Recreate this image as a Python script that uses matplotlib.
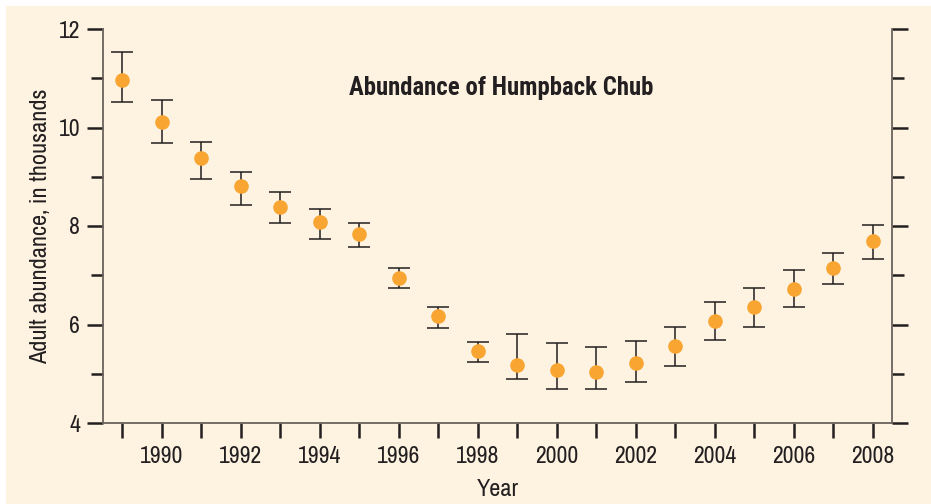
import matplotlib
matplotlib.use("Agg")
import numpy as np
import matplotlib.pyplot as plt
from matplotlib import font_manager
from matplotlib.ticker import MultipleLocator

# --------------------------------------------
# Data
# --------------------------------------------
years = np.arange(1989, 2009)
abundance = [10.96, 10.12, 9.39, 8.81, 8.39, 8.08, 7.83, 6.95, 6.17, 5.46,
             5.18, 5.08, 5.04, 5.21, 5.56, 6.08, 6.35, 6.73, 7.14, 7.69]
upper = [11.54, 10.56, 9.71, 9.09, 8.70, 8.35, 8.07, 7.15, 6.36, 5.64,
         5.81, 5.63, 5.54, 5.66, 5.95, 6.46, 6.74, 7.11, 7.46, 8.03]
lower = [10.51, 9.68, 8.96, 8.43, 8.07, 7.74, 7.57, 6.74, 5.92, 5.24,
         4.89, 4.70, 4.70, 4.83, 5.16, 5.69, 5.95, 6.36, 6.83, 7.34]

BG = "#fef3e1"
INK = "#231f20"
SPINE = "#6b625e"
ORANGE = "#f8a532"
FONT = ["Archivo Narrow", "Liberation Sans Narrow", "DejaVu Sans"]


def pick_bold_condensed():
    # first condensed family that really ships a bold face
    wanted = ["Roboto Condensed", "Liberation Sans Narrow", "IBM Plex Sans Condensed",
              "Fira Sans Condensed", "Open Sans Condensed", "Asap Condensed",
              "Sofia Sans Condensed"]
    have = {(f.name, f.weight) for f in font_manager.fontManager.ttflist}
    for name in wanted:
        if (name, 700) in have:
            return [name, "DejaVu Sans"]
    return FONT


plt.rcParams["font.family"] = FONT

fig = plt.figure(figsize=(9.31, 5.04), dpi=100)
fig.patch.set_facecolor("white")
# cream panel with a thin white border at top/left
fig.patches.append(plt.Rectangle((6 / 931, 0), 1, 1 - 6 / 504, transform=fig.transFigure,
                                 facecolor=BG, edgecolor="none", zorder=-10))

ax = fig.add_axes([103 / 931, 1 - 423 / 504, (892 - 103) / 931, (423 - 29) / 504])
ax.set_facecolor(BG)

ab = np.array(abundance)
yerr = [ab - np.array(lower), np.array(upper) - ab]
ax.errorbar(years, ab, yerr=yerr, fmt="o", color=ORANGE, markersize=9.5,
            ecolor=INK, elinewidth=1.1, capsize=8, capthick=1.1, zorder=3)

ax.set_xlim(1988.52, 2008.48)
ax.set_ylim(4, 12)

ax.xaxis.set_major_locator(MultipleLocator(2))
ax.xaxis.set_minor_locator(MultipleLocator(1))
ax.yaxis.set_major_locator(MultipleLocator(2))
ax.yaxis.set_minor_locator(MultipleLocator(1))
ax.yaxis.set_ticks_position("both")

ax.tick_params(axis="both", which="both", direction="out", color=INK, width=1.8,
               labelsize=17, labelcolor=INK, pad=5)
ax.tick_params(axis="x", which="both", length=10.5, pad=6)
ax.tick_params(axis="y", which="major", length=11.5)
ax.tick_params(axis="y", which="minor", length=8.5)
ax.tick_params(axis="y", labelright=False)

ax.spines["top"].set_visible(False)
for side in ("left", "right", "bottom"):
    ax.spines[side].set_color(SPINE)
    ax.spines[side].set_linewidth(1.3)

ax.set_xlabel("Year", fontsize=17.5, color=INK, labelpad=9)
ax.set_ylabel("Adult abundance, in thousands", fontsize=17.5, color=INK, labelpad=5)
ax.text(0.505, 0.85, "Abundance of Humpback Chub", transform=ax.transAxes,
        ha="center", va="center", fontsize=17.8, fontweight="bold", color=INK,
        family=pick_bold_condensed())

fig.savefig("out.png", dpi=100, facecolor=fig.get_facecolor())
